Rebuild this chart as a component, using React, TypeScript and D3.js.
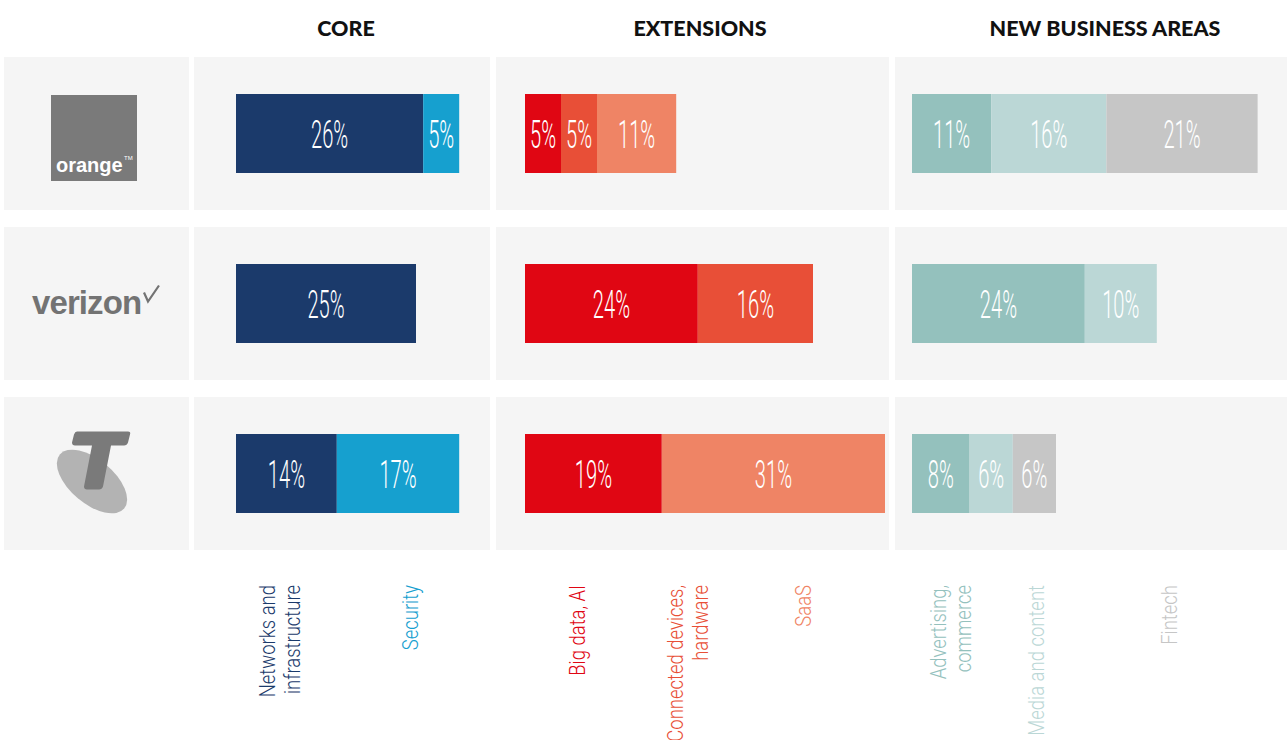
import React from 'react';
import * as d3 from 'd3';

const companies = ['Orange', 'Verizon', 'Telstra'];
const groupTitles = ['CORE', 'EXTENSIONS', 'NEW BUSINESS AREAS'];

// share of activity per company (%), one array per category
const networksValues = [26, 25, 14];
const securityValues = [5, 0, 17];
const bigDataValues = [5, 24, 19];
const connectedValues = [5, 16, 0];
const saasValues = [11, 0, 31];
const advertisingValues = [11, 24, 8];
const mediaValues = [16, 10, 6];
const fintechValues = [21, 0, 6];

const coreKeys = ['networks', 'security'];
const extensionKeys = ['bigData', 'connected', 'saas'];
const newBusinessKeys = ['advertising', 'media', 'fintech'];

const categoryLabels: Record<string, string[]> = {
  networks: ['Networks and', 'infrastructure'],
  security: ['Security'],
  bigData: ['Big data, AI'],
  connected: ['Connected devices,', 'hardware'],
  saas: ['SaaS'],
  advertising: ['Advertising,', 'commerce'],
  media: ['Media and content'],
  fintech: ['Fintech'],
};

const colors: Record<string, string> = {
  networks: '#1b3a6b',
  security: '#16a0cf',
  bigData: '#e00613',
  connected: '#e84f37',
  saas: '#ef8465',
  advertising: '#94c1bd',
  media: '#bbd7d6',
  fintech: '#c6c6c6',
};

const rows = companies.map((c, i) => ({
  company: c,
  networks: networksValues[i],
  security: securityValues[i],
  bigData: bigDataValues[i],
  connected: connectedValues[i],
  saas: saasValues[i],
  advertising: advertisingValues[i],
  media: mediaValues[i],
  fintech: fintechValues[i],
}));

const W = 1287;
const H = 740;

// panel layout
const panels = [
  { x0: 194, x1: 490, barX: 236, titleX: 346, keys: coreKeys },
  { x0: 496, x1: 889, barX: 525, titleX: 700, keys: extensionKeys },
  { x0: 895, x1: 1287, barX: 912, titleX: 1105, keys: newBusinessKeys },
];
const labelX: Record<string, number> = {
  networks: 275, security: 418, bigData: 585, connected: 683, saas: 811,
  advertising: 946, media: 1044, fintech: 1177,
};

const y = d3.scaleBand<string>().domain(companies).range([57, 550]).paddingInner(0.1);
const w = d3.scaleLinear().domain([0, 10]).range([0, 72]);
const barH = 79;

const condensed = 'Roboto, "Liberation Sans", sans-serif';
const logoFont = '"Liberation Sans", Arial, sans-serif';

const Logo: React.FC<{ company: string; cy: number }> = ({ company, cy }) => {
  if (company === 'Orange') {
    const t = cy + 4.5;
    return (
      <g>
        <rect x={51} y={t - 43} width={86} height={86} fill="#7a7a7a" />
        <text x={56} y={t + 34} fill="#fff" fontFamily={logoFont} fontWeight={700} fontSize={20}>orange</text>
        <text x={124} y={t + 22} fill="#fff" fontFamily={logoFont} fontSize={6}>TM</text>
      </g>
    );
  }
  if (company === 'Verizon') {
    return (
      <g>
        <text x={32} y={cy + 10} fill="#737373" fontFamily={logoFont}
          fontWeight={700} fontSize={33} letterSpacing={-0.9}>verizon</text>
        <polyline points={`144,${cy - 11} 148,${cy - 2} 159,${cy - 18}`} fill="none"
          stroke="#737373" strokeWidth={2.2} />
      </g>
    );
  }
  const o = cy - 473;
  return (
    <g transform={`translate(0,${o})`}>
      <ellipse cx={0} cy={0} rx={42} ry={22} fill="#b3b3b3"
        transform="translate(92,481) rotate(40)" />
      <path fill="#7a7a7a"
        d="M77,431 L128,431 Q131,431 130,434 L128,442 Q127,445 124,445 L111,445 L103,486 Q102,489 99,489 L87,489 Q84,489 84,486 L92,445 L75,445 Q72,445 72,442 L74,434 Q75,431 77,431 Z" />
    </g>
  );
};

const App: React.FC = () => {
  return (
    <div style={{ position: 'absolute', left: 0, top: 0 }}>
      <svg width={W} height={H} viewBox={`0 0 ${W} ${H}`} style={{ display: 'block', background: '#fff' }}>
        {groupTitles.map((t, i) => (
          <text key={t} x={panels[i].titleX} y={36} textAnchor="middle" fontFamily='Lato, "Open Sans", sans-serif'
            fontWeight={900} fontSize={21.5} fill="#111">{t}</text>
        ))}

        {companies.map((c) => {
          const top = y(c)!;
          const bh = y.bandwidth();
          const cy = top + bh / 2;
          return (
            <g key={c}>
              <rect x={4} y={top} width={185} height={bh} fill="#f5f5f5" />
              {panels.map((p, pi) => (
                <rect key={pi} x={p.x0} y={top} width={p.x1 - p.x0} height={bh} fill="#f5f5f5" />
              ))}
              <Logo company={c} cy={cy} />
            </g>
          );
        })}

        {panels.map((p, pi) => {
          const series = d3.stack<any>().keys(p.keys)(rows);
          return (
            <g key={pi}>
              {series.map((s) => (
                <g key={s.key}>
                  {s.map((d, i) => {
                    const v = d[1] - d[0];
                    if (!v) return null;
                    const x0 = p.barX + w(d[0]);
                    const bw = w(v);
                    const cy = y(companies[i])! + y.bandwidth() / 2;
                    const cx = x0 + bw / 2;
                    return (
                      <g key={i}>
                        <rect x={x0} y={cy - barH / 2} width={bw} height={barH} fill={colors[s.key]} />
                        <text transform={`translate(${cx},${cy + 14}) scale(0.53,1)`} textAnchor="middle"
                          fontFamily={condensed} fontWeight={300} fontSize={38} fill="#fff">{v}%</text>
                      </g>
                    );
                  })}
                </g>
              ))}
            </g>
          );
        })}

        {Object.keys(categoryLabels).map((k) => (
          <text key={k} transform={`translate(${labelX[k]},585) rotate(-90) scale(0.84,1)`}
            textAnchor="end" fontFamily={condensed} fontWeight={300} fontSize={22} fill={colors[k]}>
            {categoryLabels[k].map((line, li) => (
              <tspan key={li} x={0} dy={li === 0 ? 0 : 25}>{line}</tspan>
            ))}
          </text>
        ))}
      </svg>
    </div>
  );
};

export default App;
